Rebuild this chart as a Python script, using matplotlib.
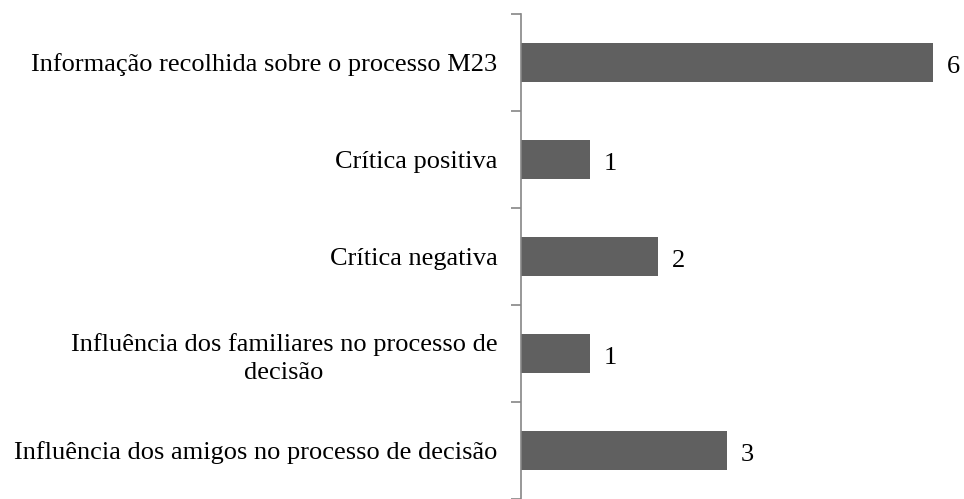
import matplotlib
matplotlib.use("Agg")
import matplotlib.pyplot as plt

categories = [
    "Informação recolhida sobre o processo M23",
    "Crítica positiva",
    "Crítica negativa",
    "Influência dos familiares no processo de\ndecisão",
    "Influência dos amigos no processo de decisão",
]
values = [6, 1, 2, 1, 3]

plt.rcParams['font.family'] = ['Liberation Serif', 'DejaVu Serif']

fig = plt.figure(figsize=(9.64, 4.99), dpi=100)
ax = fig.add_axes([521/964, 0, (933-521)/964, (499-14)/499])

y = list(range(len(categories)))
ax.barh(y, values, height=0.4, color='#606060')
ax.set_xlim(0, 6)
ax.set_ylim(len(categories)-0.5, -0.5)

for yi, v in zip(y, values):
    ax.annotate(str(v), (v, yi), xytext=(10, -7.5), textcoords='offset points',
                va='baseline', ha='left', fontsize=19, annotation_clip=False)

ax.set_yticks([i - 0.5 for i in range(len(categories)+1)])
ax.set_yticklabels([])
ax.set_yticks(y, minor=True)
ax.set_yticklabels(categories, minor=True, fontsize=19, multialignment='center',
                   linespacing=1.35)
ax.tick_params(axis='y', which='minor', length=0, pad=17)
ax.tick_params(axis='y', which='major', length=7, color='#868686', width=1.2)
ax.set_xticks([])
for s in ['top', 'right', 'bottom']:
    ax.spines[s].set_visible(False)
ax.spines['left'].set_color('#868686')
ax.spines['left'].set_linewidth(1.2)

fig.savefig("out.png", dpi=100)
